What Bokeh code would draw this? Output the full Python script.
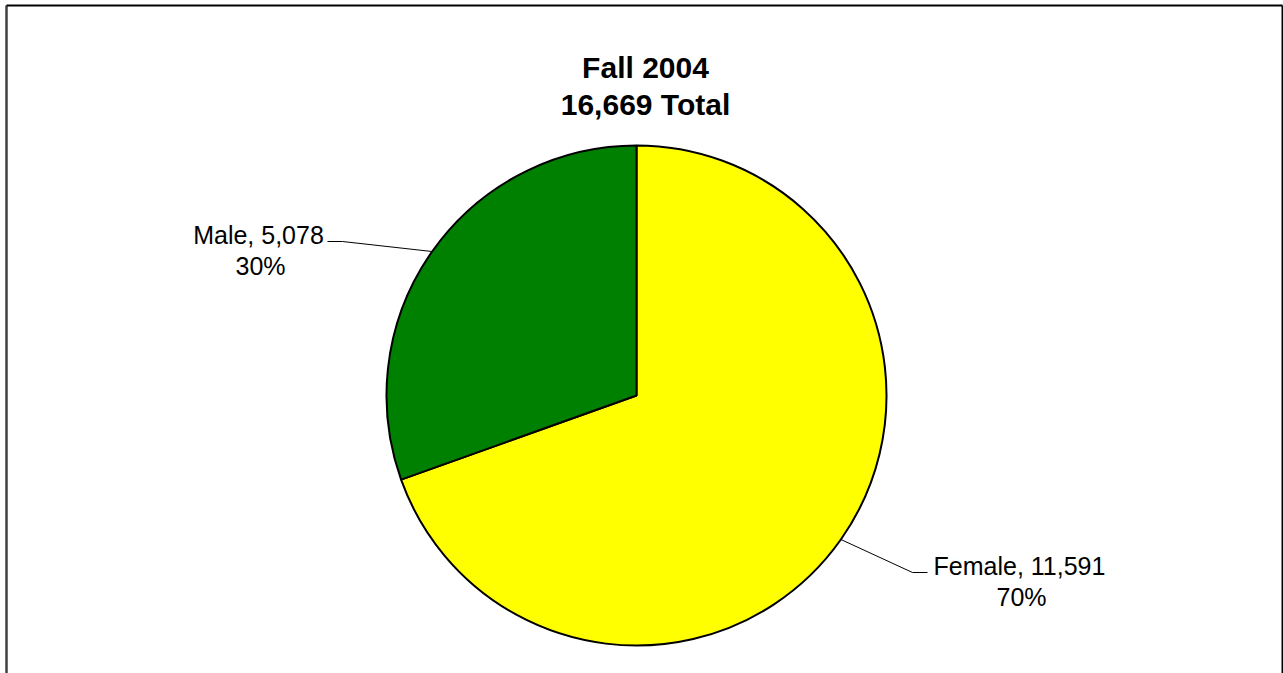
import math
from bokeh.plotting import figure
from bokeh.models import ColumnDataSource
from bokeh.core.properties import value
from bokeh.embed import file_html
from bokeh.resources import INLINE

# ---- data ----
categories = ["Female", "Male"]
counts = [11591, 5078]
colors = ["#FFFF00", "#008000"]
title_lines = ["Fall 2004", "16,669 Total"]

total = sum(counts)

W, H = 1283, 673
def X(px):
    return px
def Y(py):
    return H - py

p = figure(width=W, height=H, x_range=(0, W), y_range=(0, H),
           output_backend="svg", toolbar_location=None, min_border=0,
           background_fill_color="white", border_fill_color="white")
p.axis.visible = False
p.xgrid.visible = False
p.ygrid.visible = False
p.outline_line_color = None

# chart border (left, top, right; bottom runs off the page)
p.line([X(6), X(6)], [Y(680), Y(5)], line_color="#404040", line_width=2.5)
p.line([X(6), X(1282)], [Y(5), Y(5)], line_color="black", line_width=2)
p.line([X(1282), X(1282)], [Y(5), Y(680)], line_color="black", line_width=2)

# pie geometry
cx, cy, r = X(636), Y(395), 250
starts, ends, mids = [], [], []
cum = 0.0
for c in counts:
    frac0 = cum / total
    cum += c
    frac1 = cum / total
    starts.append(math.pi / 2 - frac1 * 2 * math.pi)
    ends.append(math.pi / 2 - frac0 * 2 * math.pi)
    mids.append(math.pi / 2 - (frac0 + frac1) * math.pi)

src = ColumnDataSource(dict(cat=categories, count=counts, color=colors,
                            start=starts, end=ends))
p.wedge(x=cx, y=cy, radius=r, start_angle="start", end_angle="end",
        fill_color="color", line_color="black", line_width=2, source=src)

# labels with leader lines
font = value("Liberation Sans")
# elbow offsets / label anchors (layout only)
layout = {
    "Male": dict(elbow=(342, 241), end=(327, 241), label=(258, 234)),
    "Female": dict(elbow=(912, 572), end=(927, 572), label=(1019, 565)),
}
for cat, cnt, mid in zip(categories, counts, mids):
    L = layout[cat]
    ex, ey = cx + r * math.cos(mid), cy + r * math.sin(mid)
    p.line([ex, X(L["elbow"][0]), X(L["end"][0])],
           [ey, Y(L["elbow"][1]), Y(L["end"][1])],
           line_color="black", line_width=1)
    lx, ly = X(L["label"][0]), Y(L["label"][1])
    p.text(x=[lx, lx + 2], y=[ly, ly - 31],
           text=[f"{cat}, {cnt:,}", f"{round(100 * cnt / total)}%"],
           text_align="center", text_baseline="alphabetic",
           text_font=font, text_font_size="25px", text_color="black")

# title
p.text(x=[X(645), X(645)], y=[Y(67), Y(104)], text=title_lines,
       text_align="center", text_baseline="alphabetic",
       text_font=font, text_font_size="30px", text_font_style="bold",
       text_color="black")

open("out.html", "w").write(file_html(p, INLINE))
